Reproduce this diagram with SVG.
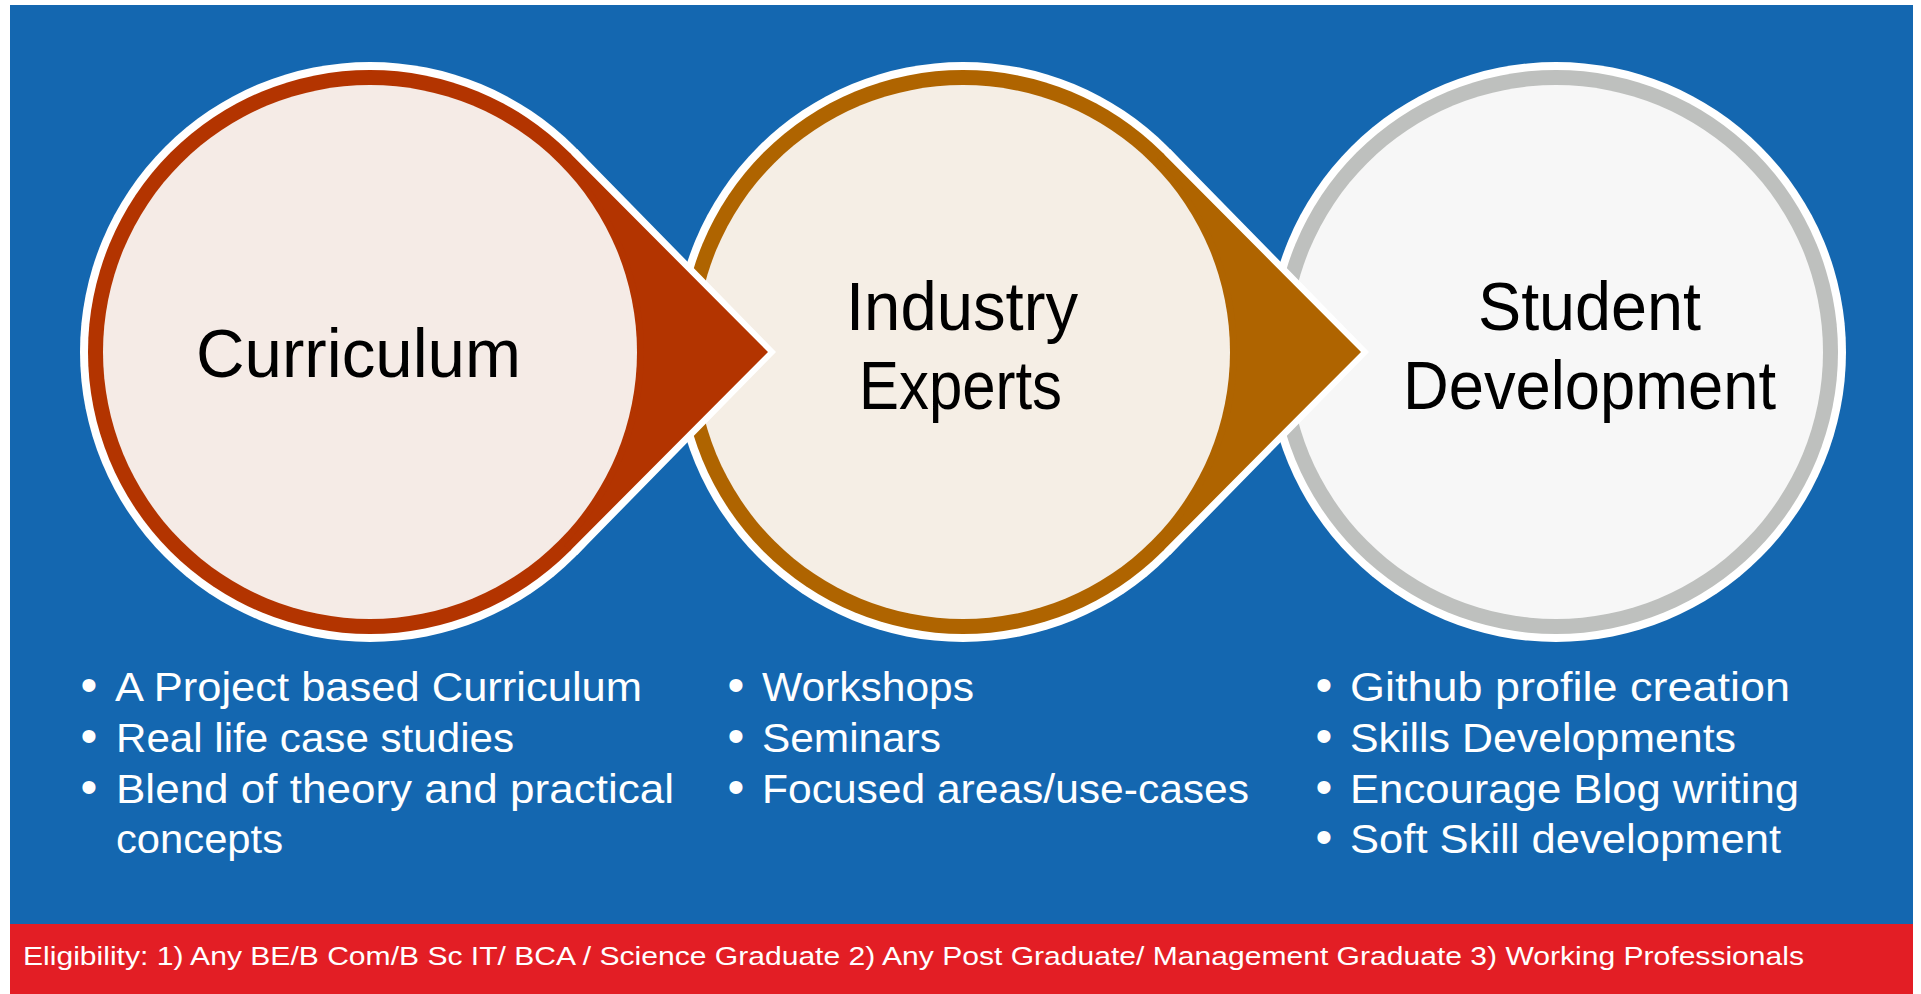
<svg xmlns="http://www.w3.org/2000/svg" width="1921" height="994" viewBox="0 0 1921 994">
<style>
.title{font-family:"Liberation Sans",Arial,sans-serif;font-size:68px;fill:#000;text-anchor:start}
.item{font-family:"Liberation Sans",Arial,sans-serif;font-size:40px;fill:#fff}
.bul{font-family:"Liberation Sans",Arial,sans-serif;font-size:48px;fill:#fff;text-anchor:middle}
.elig{font-family:"Liberation Sans",Arial,sans-serif;font-size:26px;fill:#fff}
.halo{fill:#fff}
</style>
<rect x="0" y="0" width="1921" height="994" fill="#fff"/>
<rect x="10" y="5" width="1903" height="919" fill="#1467B0"/>
<rect x="10" y="924" width="1903" height="70" fill="#E31E25"/>

<g id="node-student">
<circle class="halo" cx="1556" cy="352" r="290"/>
<circle cx="1556" cy="352" r="282" fill="#BEC0BE"/>
<circle cx="1556" cy="352" r="267" fill="#F7F7F7"/>
<text class="title" x="1478" y="330" textLength="223" lengthAdjust="spacingAndGlyphs">Student</text>
<text class="title" x="1403" y="409" textLength="373" lengthAdjust="spacingAndGlyphs">Development</text>
<text class="bul" x="1324" y="701">•</text>
<text class="bul" x="1324" y="752">•</text>
<text class="bul" x="1324" y="803">•</text>
<text class="bul" x="1324" y="853">•</text>
<text class="item" x="1350" y="701" textLength="440" lengthAdjust="spacingAndGlyphs">Github profile creation</text>
<text class="item" x="1350" y="752" textLength="386" lengthAdjust="spacingAndGlyphs">Skills Developments</text>
<text class="item" x="1350" y="803" textLength="449" lengthAdjust="spacingAndGlyphs">Encourage Blog writing</text>
<text class="item" x="1350" y="853" textLength="431" lengthAdjust="spacingAndGlyphs">Soft Skill development</text>
</g>

<g id="node-industry">
<circle class="halo" cx="963" cy="352" r="290"/>
<circle cx="963" cy="352" r="282" fill="#AF6400"/>
<circle cx="963" cy="352" r="267" fill="#F5EEE5"/>
<text class="title" x="846" y="330" textLength="232" lengthAdjust="spacingAndGlyphs">Industry</text>
<text class="title" x="859" y="409" textLength="203" lengthAdjust="spacingAndGlyphs">Experts</text>
<text class="bul" x="736" y="701">•</text>
<text class="bul" x="736" y="752">•</text>
<text class="bul" x="736" y="803">•</text>
<text class="item" x="762" y="701" textLength="212" lengthAdjust="spacingAndGlyphs">Workshops</text>
<text class="item" x="762" y="752" textLength="179" lengthAdjust="spacingAndGlyphs">Seminars</text>
<text class="item" x="762" y="803" textLength="487" lengthAdjust="spacingAndGlyphs">Focused areas/use-cases</text>
</g>

<g id="node-curriculum">
<circle class="halo" cx="370" cy="352" r="290"/>
<circle cx="370" cy="352" r="282" fill="#B33400"/>
<circle cx="370" cy="352" r="267" fill="#F5EBE6"/>
<text class="title" x="196" y="377" textLength="325" lengthAdjust="spacingAndGlyphs">Curriculum</text>
<text class="bul" x="89" y="701">•</text>
<text class="bul" x="89" y="752">•</text>
<text class="bul" x="89" y="803">•</text>
<text class="item" x="115" y="701" textLength="527" lengthAdjust="spacingAndGlyphs">A Project based Curriculum</text>
<text class="item" x="116" y="752" textLength="398" lengthAdjust="spacingAndGlyphs">Real life case studies</text>
<text class="item" x="116" y="803" textLength="558" lengthAdjust="spacingAndGlyphs">Blend of theory and practical</text>
<text class="item" x="116" y="853" textLength="167" lengthAdjust="spacingAndGlyphs">concepts</text>
</g>

<g id="connectors">
<path class="halo" d="M1369 352 L1170.1 149 L1162.2 156.7 A279 279 0 0 1 1162.2 547.3 L1170.1 555 Z"/>
<path fill="#AF6400" d="M1361 352 L1162.8 153 L1157.1 158.6 A274 274 0 0 1 1157.1 545.4 L1162.8 551 Z"/>
<path class="halo" d="M776 352 L577.1 149 L569.2 156.7 A279 279 0 0 1 569.2 547.3 L577.1 555 Z"/>
<path fill="#B33400" d="M768 352 L569.8 153 L564.1 158.6 A274 274 0 0 1 564.1 545.4 L569.8 551 Z"/>
</g>

<g id="footer">
<text class="elig" x="23" y="965" textLength="1781" lengthAdjust="spacingAndGlyphs">Eligibility: 1) Any BE/B Com/B Sc IT/ BCA / Science Graduate 2) Any Post Graduate/ Management Graduate 3) Working Professionals</text>
</g>
</svg>
